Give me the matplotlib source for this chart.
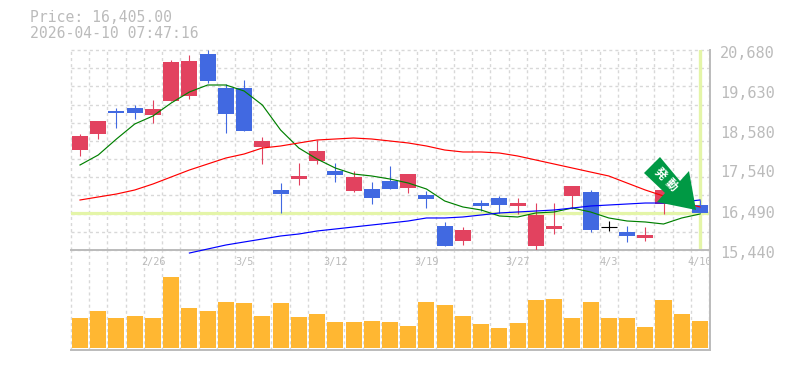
import numpy as np
import matplotlib
matplotlib.use("Agg")
import matplotlib.pyplot as plt
from matplotlib.patches import Polygon
from matplotlib.transforms import IdentityTransform, blended_transform_factory

plt.rcParams['font.family'] = ['DejaVu Sans Mono', 'Noto Sans CJK JP']

title_lines = ["Price: 16,405.00", "2026-04-10 07:47:16"]
opens = [18141, 18560, 19163, 19241, 19058, 19425, 19556, 20656, 19765, 19765, 18220, 17093, 17381, 17853, 17591, 17067, 17119, 17329,
         17145, 16962, 16150, 15757, 16752, 16883, 16674, 15626, 16071, 16936, 17041, 16124, 15993, 15835, 16726, 17041, 16700]
closes = [18508, 18901, 19110, 19110, 19215, 20447, 20473, 19949, 19084, 18639, 18377, 16988, 17460, 18115, 17486, 17434, 16883, 17119,
          17512, 16857, 15626, 16045, 16674, 16700, 16752, 16438, 16150, 17198, 16045, 16124, 15888, 15914, 17093, 16831, 16491]
highs = [18560, 18901, 19241, 19320, 19451, 20499, 20630, 20761, 19870, 19975, 18482, 17276, 17800, 18403, 17800, 17591, 17303, 17722,
         17512, 17067, 16255, 16124, 16831, 16936, 16883, 16752, 16752, 17198, 17093, 16281, 16150, 16124, 17093, 17145, 16831]
lows = [17984, 18429, 18717, 18953, 18848, 19425, 19477, 19896, 18586, 18639, 17774, 16491, 17224, 17774, 17303, 17041, 16726, 17119,
        17014, 16621, 15626, 15652, 16543, 16491, 16464, 15495, 15940, 16595, 15993, 16019, 15731, 15757, 16464, 16674, 16491]
ma_short = [17748, 18010, 18429, 18822, 19032, 19372, 19661, 19844, 19844, 19687, 19320, 18665, 18193, 17905, 17669, 17512, 17460, 17381,
            17276, 17119, 16805, 16648, 16569, 16412, 16386, 16491, 16517, 16621, 16517, 16360, 16281, 16255, 16202, 16360, 16464]
ma_mid = [16831, 16910, 16988, 17093, 17250, 17434, 17617, 17774, 17931, 18036, 18193, 18246, 18325, 18403, 18429, 18455, 18429, 18377,
          18325, 18246, 18141, 18089, 18089, 18062, 17984, 17879, 17774, 17669, 17564, 17460, 17276, 17093, 16936, 16779, 16648]
ma_long = [15442, 15547, 15652, 15731, 15809, 15888, 15940, 16019, 16071, 16124, 16176, 16228, 16281, 16360, 16360, 16386, 16438, 16491,
           16517, 16543, 16569, 16621, 16674, 16700, 16726, 16752, 16752, 16779, 16831]
volumes = [30, 37, 30, 32, 30, 71, 40, 37, 46, 45, 32, 45, 31, 34, 26, 26, 27, 26,
           22, 46, 43, 32, 24, 20, 25, 48, 49, 30, 46, 30, 30, 21, 48, 34, 27]
price_ticks = [20680, 19630, 18580, 17540, 16490, 15440]
price_tick_labels = ["20,680", "19,630", "18,580", "17,540", "16,490", "15,440"]
date_positions = [4, 9, 14, 19, 24, 29, 34]
date_labels = ["2/26", "3/5", "3/12", "3/19", "3/27", "4/3", "4/10"]
last_level = 16490
arrow_label = ["発", "動"]

RED, BLUE, ORANGE = "#E2425F", "#4169E1", "#FFB732"
GRID, AXIS, TXT, PALE = "#D8D8D8", "#BBBBBB", "#BBBBBB", "#E4F5A8"
W, H = 785, 370
L, R, T, M, B = 70.5, 709.5, 50, 250, 349.5

fig = plt.figure(figsize=(W / 100, H / 100), dpi=100)
ax = fig.add_axes([L / W, 1 - M / H, (R - L) / W, (M - T) / H], zorder=2)
av = fig.add_axes([L / W, 1 - B / H, (R - L) / W, (B - M) / H], zorder=1)
ax.patch.set_visible(False)

x = np.arange(len(opens))
step = 18.235
xlim = ((L - 80) / step, (R - 80) / step)
grid_x = np.arange(len(opens) + 1) - 0.5
for a in (ax, av):
    a.set_xlim(*xlim)
    a.set_xticks(grid_x)
    a.tick_params(length=0, labelbottom=False, labelleft=False)
    a.set_axisbelow(True)
    for s in ("left", "top"):
        a.spines[s].set_visible(False)
    for s in ("right", "bottom"):
        a.spines[s].set_color(AXIS)
        a.spines[s].set_linewidth(1.4)
ax.set_ylim(15521, 20761)
ax.set_yticks(np.linspace(15521, 20761, 12))
av.set_ylim(-2, 98)
av.set_yticks([])
dash = dict(color=GRID, lw=1.0, linestyle=(0, (2.2, 2.2)))
ax.grid(True, **dash)
av.grid(True, axis="x", **dash)
for g in ax.get_xgridlines() + ax.get_ygridlines() + av.get_xgridlines():
    g.set_clip_on(False)

ax.axhline(last_level, color=PALE, lw=2.3, zorder=1.5)
ax.axvline(x[-1], color=PALE, lw=2.4, zorder=1.5)

for i in x:
    o, c, h, l = opens[i], closes[i], highs[i], lows[i]
    col = RED if c > o else BLUE if c < o else "black"
    ax.vlines(i, l, h, color=col, lw=0.8, zorder=3)
    if c == o:
        ax.hlines(o, i - 0.44, i + 0.44, color=col, lw=0.8, zorder=3)
    else:
        ax.bar(i, abs(c - o), bottom=min(o, c), width=0.88, color=col, linewidth=0, zorder=3)

line_kw = dict(lw=0.85, clip_on=False, zorder=4)
ax.plot(x, ma_short, color="#008000", **line_kw)
ax.plot(x, ma_mid, color="#FF0000", **line_kw)
ax.plot(x[-len(ma_long):], ma_long, color="#0000FF", **line_kw)

av.bar(x, volumes, width=0.88, color=ORANGE, linewidth=0, zorder=3)

# badge arrow, laid out in image pixels
outline = [(660, 157), (644, 173), (665, 193), (657, 202), (696, 210), (689, 171), (680, 181)]
ax.add_patch(Polygon([(px, H - py) for px, py in outline], closed=True, facecolor="#009944", edgecolor="none",
                     transform=IdentityTransform(), clip_on=False, zorder=10))
for s, (px, py) in zip(arrow_label, [(660, 174), (671, 185)]):
    ax.text(px / W, 1 - py / H, s, transform=fig.transFigure, color="white", fontsize=8.5, fontweight="bold",
            rotation=-45, rotation_mode="anchor", ha="center", va="center", family=["Noto Sans CJK JP"], zorder=11)

ytrans = blended_transform_factory(fig.transFigure, ax.transData)
for p, s in zip(price_ticks, price_tick_labels):
    ax.text(720 / W, p, s, transform=ytrans, color=TXT, fontsize=11, va="center", ha="left", clip_on=False)
xtrans = blended_transform_factory(ax.transData, fig.transFigure)
for p, s in zip(date_positions, date_labels):
    ax.text(p, 1 - 262 / H, s, transform=xtrans, color=TXT, fontsize=7.4, va="center", ha="center", clip_on=False)

fig.text(30 / W, 1 - 18 / H, title_lines[0], color=TXT, fontsize=10.6, va="center", ha="left")
fig.text(30 / W, 1 - 33 / H, title_lines[1], color=TXT, fontsize=10.6, va="center", ha="left")

fig.savefig("out.png", dpi=100)
